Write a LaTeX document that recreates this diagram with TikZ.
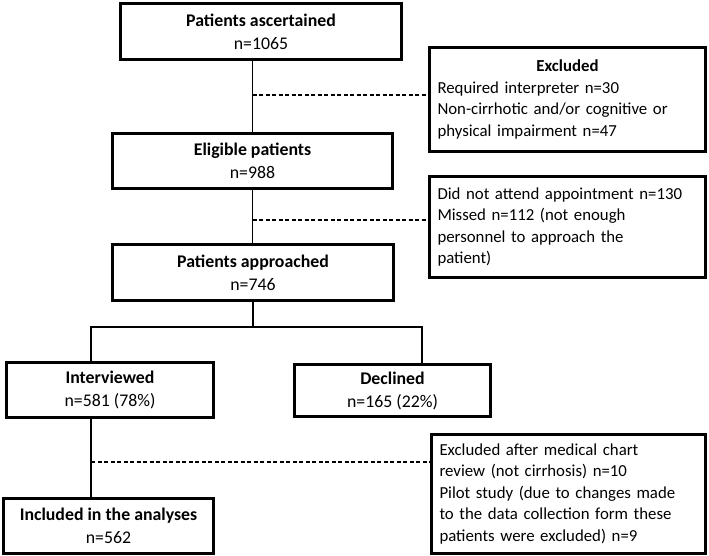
\documentclass[tikz,border=0pt]{standalone}
\usepackage{fontspec}
\setmainfont{Carlito}

\begin{document}
\begin{tikzpicture}[x=1pt, y=-1pt,
    box/.style={draw, line width=3pt, fill=white, align=center, inner sep=0pt,
        font=\fontsize{17.8}{23}\selectfont},
    sidebox/.style={draw, line width=3pt, fill=white, align=left, text width=260pt,
        inner xsep=8pt, inner ysep=0pt, font=\fontsize{16.8}{21.5}\selectfont},
    link/.style={line width=1.3pt},
    exclline/.style={line width=1.3pt, dash pattern=on 4pt off 2.5pt}]
    \useasboundingbox (0,0) rectangle (709,556);

    % Main flow
    \node[box, minimum width=281pt, minimum height=56pt] (asc) at (261,31.5)
        {\textbf{Patients ascertained}\\n=1065};
    \node[box, minimum width=280pt, minimum height=55pt] (elig) at (252.5,161)
        {\textbf{Eligible patients}\\n=988};
    \node[box, minimum width=281pt, minimum height=56pt] (appr) at (253,272.5)
        {\textbf{Patients approached}\\n=746};
    \node[box, minimum width=207pt, minimum height=55pt] (intv) at (110,390)
        {\textbf{Interviewed}\\n=581 (78\%)};
    \node[box, minimum width=196pt, minimum height=52pt] (decl) at (392.5,390.5)
        {\textbf{Declined}\\n=165 (22\%)};
    \node[box, minimum width=210pt, minimum height=55pt] (incl) at (108.5,526)
        {\textbf{Included in the analyses}\\n=562};

    % Exclusion boxes
    \node[sidebox, minimum height=104pt] (excla) at (567.5,99.5)
        {\makebox[\linewidth]{\textbf{Excluded}}\\Required interpreter n=30\\
        Non-cirrhotic and/or cognitive or\\physical impairment n=47};
    \node[sidebox, minimum height=101pt] (exclb) at (567.5,227)
        {Did not attend appointment n=130\\Missed n=112 (not enough\\
        personnel to approach the\\patient)};
    \node[sidebox, text width=258pt, minimum height=119pt] (exclc) at (568.5,494)
        {Excluded after medical chart\\review (not cirrhosis) n=10\\
        Pilot study (due to changes made\\to the data collection form these\\
        patients were excluded) n=9};

    % Split points
    \coordinate (da) at (252.5,95);
    \coordinate (db) at (252.5,220);
    \coordinate (brl) at (91,327);
    \coordinate (brr) at (422,327);
    \coordinate (dc) at (91,462);

    % Connectors
    \draw[link] (elig.north |- asc.south) -- (elig.north);
    \draw[link] (elig.south) -- (elig.south |- appr.north);
    \draw[link] (appr.south) -- (appr.south |- brl);
    \draw[link] (intv.north -| brl) -- (brl) -- (brr) -- (brr |- decl.north);
    \draw[link] (intv.south -| brl) -- (incl.north -| brl);

    \draw[exclline] (da) -- (da -| excla.west);
    \draw[exclline] (db) -- (db -| exclb.west);
    \draw[exclline] (dc) -- (dc -| exclc.west);
\end{tikzpicture}
\end{document}
